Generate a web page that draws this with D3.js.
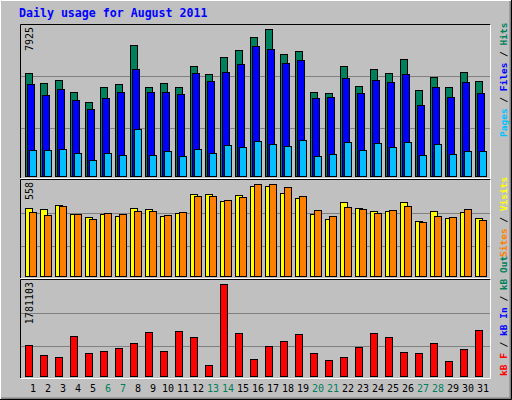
<!DOCTYPE html>
<html><head><meta charset="utf-8">
<script src="https://cdn.jsdelivr.net/npm/d3@7"></script>
<style>body{margin:0;background:#fff}text{font-family:"DejaVu Sans Mono",monospace}</style>
</head><body><div id="chart"></div>
<script>
const days = d3.range(1, 32);
const weekend = [6, 7, 13, 14, 20, 21, 27, 28];
const hits = [5459,4937,5094,4468,3947,4729,4886,6919,4729,4937,4729,5824,5407,6293,6658,7284,7701,6450,6606,4468,4416,5824,4781,5667,5459,6189,4573,5250,4729,5511,5042];
const files = [4886,4312,4625,4051,3582,4155,4468,5667,4468,4468,4364,5459,5042,5511,5928,6867,6710,5980,6137,4155,4207,5198,4416,5094,4990,5407,3791,4729,4207,4990,4416];
const pages = [1496,1496,1548,1340,975,1340,1236,2591,1236,1444,1184,1548,1340,1757,1653,1966,1809,1705,2018,1184,1288,1913,1496,1861,1653,1913,1236,1809,1288,1444,1444];
const visits = [400,395,417,366,349,366,355,400,395,355,372,479,479,440,473,524,524,485,457,366,338,434,400,383,383,434,327,383,344,378,344];
const sites = [378,361,411,366,338,372,366,383,383,361,378,468,468,445,462,536,536,519,468,389,355,406,395,372,389,411,321,355,349,395,332];
const kbF = [611700,431800,395800,773600,467800,503700,557700,647700,845600,503700,863600,755600,251900,1709000,827600,359800,593700,683700,809600,467800,341800,395800,575700,827600,755600,485800,467800,647700,323800,539700,881600];
const maxHits = 7925, maxVisits = 558, maxKB = 1781103;

const svg = d3.select('#chart').append('svg').attr('width', 512).attr('height', 400);
svg.append('rect').attr('width', 512).attr('height', 400).attr('fill', '#c0c0c0');
// outer bevel
svg.append('path').attr('d', 'M0.5,399.5V0.5H511.5').attr('stroke', '#fff').attr('fill', 'none');
svg.append('path').attr('d', 'M1,398.5H510.5V1').attr('stroke', '#808080').attr('stroke-width', 2).attr('fill', 'none');
svg.append('path').attr('d', 'M0,399.5H511.5V0').attr('stroke', '#000').attr('fill', 'none');

svg.append('text').attr('x', 19).attr('y', 17).attr('fill', '#0000ff')
   .attr('font-size', '11.6px').attr('font-weight', 'bold').text('Daily usage for August 2011');

const x = d3.scaleBand().domain(days).range([21, 486]).paddingInner(0);

const panels = [
  {top: 25, bottom: 177, max: maxHits, label: '7925'},
  {top: 180, bottom: 277, max: maxVisits, label: '558'},
  {top: 280, bottom: 377, max: maxKB, label: '1781103'}
];
panels.forEach(p => {
  p.y = d3.scaleLinear().domain([0, p.max]).range([p.bottom + 2, p.top]);
  svg.append('path').attr('d', `M20.5,${p.bottom + 1}V${p.top - 0.5}H490.5`).attr('stroke', '#000').attr('fill', 'none');
  svg.append('path').attr('d', `M20.5,${p.bottom + 1.5}H490.5V${p.top - 0.5}`).attr('stroke', '#fff').attr('fill', 'none');
  [1, 2].forEach(k => {
    svg.append('line').attr('x1', 21).attr('x2', 490)
      .attr('y1', Math.round(p.y(p.max * k / 3)) + 0.5).attr('y2', Math.round(p.y(p.max * k / 3)) + 0.5)
      .attr('stroke', '#808080');
  });
  svg.append('text').attr('transform', `translate(${p.top === 25 ? 33 : 33},${p.top + 2}) rotate(-90)`)
    .attr('text-anchor', 'end').attr('font-size', '10px').attr('fill', '#000').text(p.label);
});

function bars(data, panel, off, color) {
  svg.append('g').selectAll('rect').data(data).enter().append('rect')
    .attr('x', (d, i) => x(days[i]) + 4.5 + off)
    .attr('y', d => Math.round(panel.y(d)) + 0.5)
    .attr('width', 7)
    .attr('height', d => panel.bottom - Math.round(panel.y(d)) - 1)
    .attr('fill', color).attr('stroke', '#000');
}
bars(hits, panels[0], 0, '#00805c');
bars(files, panels[0], 2, '#0000ff');
bars(pages, panels[0], 4, '#00c0ff');
bars(visits, panels[1], 0, '#ffff00');
bars(sites, panels[1], 4, '#ff8000');
bars(kbF, panels[2], 0, '#ff0000');

svg.append('g').selectAll('text').data(days).enter().append('text')
  .attr('x', d => x(d) + 12).attr('y', 392).attr('text-anchor', 'middle')
  .attr('font-size', '10px')
  .attr('fill', d => weekend.includes(d) ? '#00805c' : '#000').text(d => d);

function sideLabel(yStart, parts) {
  const t = svg.append('text').attr('transform', `translate(507,${yStart}) rotate(-90)`)
    .attr('font-size', '9.5px').attr('font-weight', 'bold');
  parts.forEach(([s, c]) => t.append('tspan').attr('fill', c).text(s));
}
sideLabel(137, [['Pages', '#00c0ff'], [' / ', '#000'], ['Files', '#0000ff'], [' / ', '#000'], ['Hits', '#00805c']]);
sideLabel(257, [['Sites', '#ff8000'], [' / ', '#000'], ['Visits', '#ffff00']]);
sideLabel(376, [['kB F', '#ff0000'], [' / ', '#000'], ['kB In', '#0000ff'], [' / ', '#000'], ['kB Out', '#00805c']]);
</script></body></html>
